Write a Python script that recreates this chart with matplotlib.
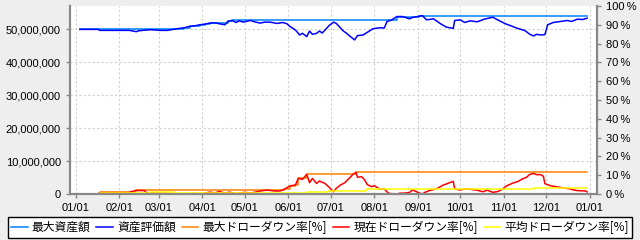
import numpy as np
import matplotlib.pyplot as plt
import matplotlib.dates as mdates
from matplotlib.ticker import FuncFormatter
from matplotlib.lines import Line2D

plt.rcParams['font.family'] = ['Liberation Sans', 'DejaVu Sans']
JP = ['Noto Sans CJK JP', 'DejaVu Sans']

base = np.datetime64('2019-01-01')

# asset value (million yen) by day of year
asset_day = [3, 16, 17, 38, 42, 43, 45, 53, 60, 65, 68, 72, 77, 81, 85, 88, 92, 95, 99,
             102, 106, 108, 111, 114, 116, 119, 124, 127, 131, 134, 138, 143, 147, 150,
             152, 156, 159, 161, 164, 166, 168, 171, 173, 175, 177, 180, 183, 185, 190,
             192, 195, 198, 200, 204, 207, 211, 216, 219, 221, 224, 228, 232, 237, 239,
             244, 246, 249, 254, 259, 263, 268, 269, 273, 276, 280, 285, 290, 296, 299,
             305, 310, 313, 319, 322, 325, 327, 330, 333, 335, 339, 344, 349, 352, 356,
             360, 363]
asset_val = [50.0, 50.0, 49.7, 49.7, 49.4, 49.3, 49.6, 49.9, 49.7, 49.7, 49.9, 50.2, 50.5,
             50.9, 51.1, 51.4, 51.6, 51.9, 52.0, 51.7, 51.4, 52.4, 52.7, 52.1, 52.6, 52.2,
             52.7, 52.3, 51.9, 52.2, 52.2, 51.8, 52.1, 51.7, 50.9, 49.8, 48.3, 48.8, 47.8,
             49.5, 48.5, 48.8, 49.5, 48.9, 49.8, 51.2, 52.2, 51.8, 49.5, 48.9, 47.8, 46.8,
             48.1, 48.3, 49.1, 50.2, 50.5, 50.4, 52.4, 52.8, 53.9, 53.9, 53.2, 53.6, 54.0,
             54.2, 52.9, 53.2, 51.7, 50.7, 50.3, 52.7, 52.9, 52.1, 52.6, 52.3, 53.1, 53.7,
             53.0, 51.7, 50.9, 50.4, 49.6, 48.6, 48.0, 48.5, 48.3, 48.4, 51.4, 52.1, 52.4,
             52.7, 52.4, 53.1, 53.0, 53.4]

# max asset (million yen), step
max_day = [3, 72, 77, 81, 85, 88, 92, 95, 99, 108, 111, 124, 224, 228, 244, 246, 363]
max_val = [50.0, 50.2, 50.5, 50.9, 51.1, 51.4, 51.6, 51.9, 52.0, 52.4, 52.7, 52.8, 52.8,
           53.9, 54.0, 54.2, 54.2]

# max drawdown [%], step
maxdd_day = [3, 17, 39, 43, 148, 152, 156, 158, 164, 199, 363]
maxdd_val = [0.0, 0.8, 1.3, 2.1, 2.5, 4.3, 4.8, 8.3, 10.5, 11.5, 11.5]

# current drawdown [%]
dd_day = [3, 16, 17, 38, 39, 43, 49, 50, 56, 63, 68, 72, 77, 85, 88, 92, 95, 99, 102,
          106, 109, 114, 120, 124, 127, 131, 136, 141, 145, 148, 152, 156, 158, 161, 164,
          166, 168, 171, 173, 177, 180, 183, 185, 188, 191, 195, 197, 199, 200, 203, 205,
          207, 210, 212, 216, 219, 222, 224, 228, 230, 234, 237, 239, 242, 244, 246, 248,
          251, 256, 261, 263, 266, 268, 269, 273, 276, 280, 285, 289, 292, 296, 299, 301,
          303, 306, 310, 314, 317, 320, 322, 325, 327, 330, 332, 333, 337, 344, 351, 353,
          356, 362, 363]
dd_val = [0.0, 0.0, 0.7, 0.7, 1.2, 1.9, 1.8, 0.8, 0.5, 0.4, 0.3, 0.1, 0.0, 0.3, 0.0, 0.5,
          1.0, 0.6, 1.4, 0.4, 1.0, 0.2, 0.9, 0.5, 0.9, 1.6, 2.1, 1.6, 1.6, 2.5, 4.3, 4.8,
          8.3, 7.8, 10.5, 6.0, 8.3, 5.6, 6.9, 5.6, 3.5, 1.2, 3.0, 4.8, 6.0, 9.0, 10.6, 11.5,
          8.9, 9.2, 7.6, 5.0, 3.9, 4.4, 2.5, 2.7, 0.4, 0.2, 0.0, 0.4, 0.5, 0.9, 2.1, 1.2,
          0.5, 0.0, 0.9, 1.8, 2.7, 4.8, 5.3, 6.2, 6.7, 2.7, 2.1, 2.7, 2.5, 2.0, 1.2, 2.0,
          0.9, 1.2, 1.8, 2.7, 4.4, 5.7, 6.7, 8.0, 8.9, 10.3, 11.0, 10.3, 10.3, 9.4, 5.5,
          4.4, 3.5, 2.7, 2.2, 1.8, 1.6, 1.1]

# average drawdown [%], step
avgdd_day = [3, 17, 53, 70, 164, 179, 206, 325, 363]
avgdd_val = [0.0, 0.4, 0.9, 0.4, 1.1, 1.8, 2.5, 3.0, 3.0]

labels = ['最大資産額', '資産評価額', '最大ドローダウン率[%]', '現在ドローダウン率[%]', '平均ドローダウン率[%]']
colors = ['#0080ff', '#0000ff', '#ff8000', '#ff0000', '#ffff00']


def to_dates(days):
    return base + np.array(days).astype('timedelta64[D]')


fig = plt.figure(figsize=(6.4, 2.4), dpi=100, facecolor='#eeeeee')
ax = fig.add_axes([70/640, 1-194/240, 527/640, 188/240])
ax2 = ax.twinx()

ax.plot(to_dates(max_day), np.array(max_val)*1e6, color=colors[0], lw=1.1, drawstyle='steps-post')
ax.plot(to_dates(asset_day), np.array(asset_val)*1e6, color=colors[1], lw=1.1)
ax2.plot(to_dates(maxdd_day), maxdd_val, color=colors[2], lw=1.1, drawstyle='steps-post')
ax2.plot(to_dates(dd_day), dd_val, color=colors[3], lw=1.1)
ax2.plot(to_dates(avgdd_day), avgdd_val, color=colors[4], lw=1.1, drawstyle='steps-post')

ax.set_xlim(base - np.timedelta64(4, 'D'), base + np.timedelta64(370, 'D'))
ax.set_ylim(0, 57.1e6)
ax2.set_ylim(0, 100)
ax.set_yticks(np.arange(0, 60e6, 10e6))
ax.yaxis.set_major_formatter(FuncFormatter(lambda v, p: f'{int(v):,}'))
ax2.set_yticks(np.arange(0, 101, 10))
ax2.yaxis.set_major_formatter(FuncFormatter(lambda v, p: f'{int(v)}\u2009%'))
ax.xaxis.set_major_locator(mdates.MonthLocator())
ax.xaxis.set_major_formatter(mdates.DateFormatter('%m/%d'))

ax.grid(True, color='#d0d0d0', ls=(0, (2, 2)), lw=0.8)
for a in (ax, ax2):
    a.spines['top'].set_visible(False)
    for s in ('left', 'right', 'bottom'):
        a.spines[s].set_color('#888888')
        a.spines[s].set_linewidth(1.5)
    a.tick_params(colors='#888888', labelcolor='black', labelsize=8, length=3, width=1)

handles = [Line2D([], [], color=c, lw=1.1) for c in colors]
leg = fig.legend(handles, labels, loc='lower center', bbox_to_anchor=(0.5, 0.0), ncol=5,
                 prop={'family': JP, 'size': 8.5}, frameon=True, fancybox=False,
                 edgecolor='black', facecolor='white', framealpha=1,
                 handlelength=1.4, handletextpad=0.35, columnspacing=0.5,
                 borderpad=0.3, borderaxespad=0.2)
leg.get_frame().set_linewidth(1.0)

fig.savefig('out.png', dpi=100, facecolor=fig.get_facecolor())
